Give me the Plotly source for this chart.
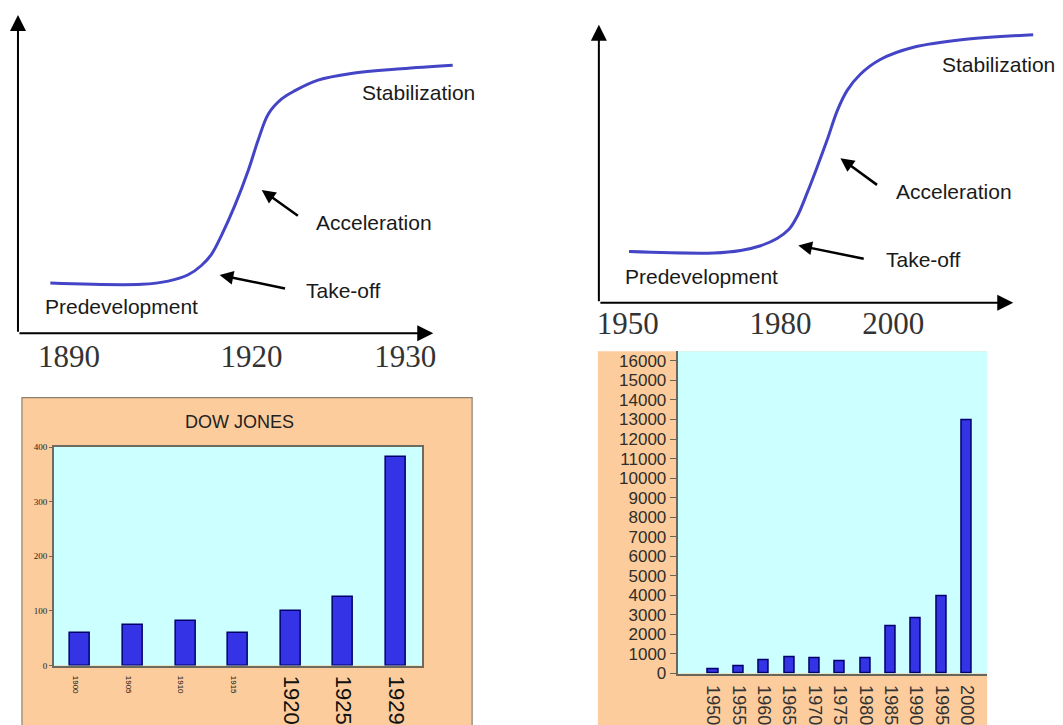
import plotly.graph_objects as go

W, H = 1063, 725
VSCALE = 1.017  # vertical calibration of the photographed page

# ---------------- data ----------------
# Schematic S-curve, 1890-1930 (stage progress units 0-100)
curve1_x = [7.3, 27.9, 33.9, 38.4, 41.4, 43.7, 45.9, 48.9, 52.0, 54.2, 56.5, 59.5, 62.5, 67.7, 75.2, 86.5, 98.1]
curve1_y = [15.8, 15.4, 16.4, 18.4, 21.3, 24.9, 30.7, 40.0, 51.3, 60.7, 68.9, 73.6, 76.2, 79.5, 81.6, 83.1, 84.2]
years1_pos = [11.5, 52.7, 87.4]
years1_lab = ["1890", "1920", "1930"]

# Schematic S-curve, 1950-2000+
curve2_x = [6.8, 26.0, 32.0, 36.5, 40.2, 42.9, 44.8, 47.0, 49.3, 51.5, 53.8, 56.0, 59.0, 63.5, 71.0, 82.3, 98.0]
curve2_y = [18.4, 17.9, 18.8, 20.5, 23.1, 26.4, 31.2, 39.5, 49.0, 58.5, 69.1, 76.3, 82.2, 87.5, 91.9, 94.7, 96.4]
years2_pos = [6.5, 41.0, 66.4]
years2_lab = ["1950", "1980", "2000"]

# Dow Jones bars
dow_years = ["1900", "1905", "1910", "1915", "1920", "1925", "1929"]
dow_values = [60, 74, 82, 60, 100, 126, 381]
dow_small = [True, True, True, True, False, False, False]

# Later index bars
idx_years = ["1950", "1955", "1960", "1965", "1970", "1975", "1980", "1985", "1990", "1995", "2000"]
idx_values = [220, 390, 675, 860, 780, 610, 780, 2415, 2835, 3985, 12965]

# ---------------- helpers ----------------
def px(v):
    return v / W

def py(v):
    return 1 - v * VSCALE / H

ORANGE = "#fdcc9c"
CYAN = "#ccffff"
BAR = "#3434e6"
BAR_LINE = "#00006a"
CURVE = "#4444c6"
LABEL_FONT = dict(family="Liberation Sans, Arial", size=21, color="#1a1a1a")
YEAR_FONT = dict(family="Liberation Serif, Times New Roman", size=31, color="#333333")

fig = go.Figure()

fig.add_trace(go.Scatter(x=curve1_x, y=curve1_y, mode="lines", xaxis="x", yaxis="y",
                         line=dict(color=CURVE, width=3, shape="spline", smoothing=1.0),
                         hoverinfo="skip", showlegend=False))
fig.add_trace(go.Scatter(x=curve2_x, y=curve2_y, mode="lines", xaxis="x2", yaxis="y2",
                         line=dict(color=CURVE, width=3, shape="spline", smoothing=1.0),
                         hoverinfo="skip", showlegend=False))
fig.add_trace(go.Bar(x=dow_years, y=dow_values, xaxis="x3", yaxis="y3", width=0.38,
                     marker=dict(color=BAR, line=dict(color=BAR_LINE, width=1.5)),
                     showlegend=False))
fig.add_trace(go.Bar(x=idx_years, y=idx_values, xaxis="x4", yaxis="y4", width=0.4,
                     marker=dict(color=BAR, line=dict(color=BAR_LINE, width=1.5)),
                     showlegend=False))

dow_ticktext = [
    ("<span style='font-size:8px'>%s</span>" % y) if s else y
    for y, s in zip(dow_years, dow_small)
]

diag_axis = dict(showgrid=False, zeroline=False, showline=False)

fig.update_layout(
    width=W, height=H,
    margin=dict(l=0, r=0, t=0, b=0),
    paper_bgcolor="white",
    plot_bgcolor="rgba(0,0,0,0)",
    bargap=0,
    xaxis=dict(domain=[px(16), px(460)], range=[0, 100], anchor="y",
               tickvals=years1_pos, ticktext=years1_lab, tickfont=YEAR_FONT,
               ticks="", ticklabelstandoff=2, **diag_axis),
    yaxis=dict(domain=[py(332), py(10)], range=[0, 100], anchor="x", visible=False),
    xaxis2=dict(domain=[px(598), px(1042)], range=[0, 100], anchor="y2",
                tickvals=years2_pos, ticktext=years2_lab, tickfont=YEAR_FONT,
                ticks="", ticklabelstandoff=-1, **diag_axis),
    yaxis2=dict(domain=[py(301), py(20)], range=[0, 100], anchor="x2", visible=False),
    xaxis3=dict(domain=[px(52), px(421)], anchor="y3", type="category",
                tickvals=dow_years, ticktext=dow_ticktext, tickangle=90,
                tickfont=dict(family="Liberation Sans, Arial", size=22, color="#111111"),
                showgrid=False, zeroline=False, showline=True, mirror=True,
                linecolor="#6e6a5e", linewidth=1.5, ticks="", ticklabelstandoff=4),
    yaxis3=dict(domain=[py(668), py(447)], anchor="x3", range=[0, 400],
                tickvals=[0, 100, 200, 300, 400],
                tickfont=dict(family="Liberation Serif, Times New Roman", size=9, color="#222222"),
                showgrid=False, zeroline=False, showline=True, mirror=True,
                linecolor="#6e6a5e", linewidth=1.5, ticks="outside", ticklen=3,
                tickcolor="#6e6a5e"),
    xaxis4=dict(domain=[px(677), px(987)], anchor="y4", type="category",
                range=[-1.4, 10.8], tickangle=90,
                tickfont=dict(family="Liberation Sans, Arial", size=18, color="#333333"),
                showgrid=False, zeroline=False, showline=True, linecolor="#66665a",
                linewidth=2, ticks="", ticklabelstandoff=6),
    yaxis4=dict(domain=[py(676), py(350)], anchor="x4", range=[0, 16500],
                tickvals=list(range(0, 16001, 1000)), tickformat="d",
                tickfont=dict(family="Liberation Sans, Arial", size=17, color="#2e2e2a"),
                showgrid=False, zeroline=False, showline=True, linecolor="#66665a",
                linewidth=2, ticks="outside", ticklen=6, tickcolor="#66665a"),
)

# panel backgrounds
fig.add_shape(type="rect", xref="paper", yref="paper", x0=px(20), x1=px(471), y0=py(745), y1=py(397),
              fillcolor=ORANGE, line=dict(color="#8c8070", width=1.2), layer="below")
fig.add_shape(type="rect", xref="paper", yref="paper", x0=px(597), x1=px(987), y0=py(745), y1=py(350),
              fillcolor=ORANGE, line=dict(width=0), layer="below")
fig.add_shape(type="rect", xref="x3 domain", yref="y3 domain", x0=0, x1=1, y0=0, y1=1,
              fillcolor=CYAN, line=dict(width=0), layer="below")
fig.add_shape(type="rect", xref="x4 domain", yref="y4 domain", x0=0, x1=1, y0=0, y1=1,
              fillcolor=CYAN, line=dict(width=0), layer="below")

def arrow(xr, yr, x, y, ax, ay, width=2.5, size=1.1):
    fig.add_annotation(xref=xr, yref=yr, axref=xr, ayref=yr, x=x, y=y, ax=ax, ay=ay,
                       text="", showarrow=True, arrowhead=2, arrowsize=size,
                       arrowwidth=width, arrowcolor="#000000", standoff=0, startstandoff=0)

def label(xr, yr, x, y, t):
    fig.add_annotation(xref=xr, yref=yr, x=x, y=y, text=t, showarrow=False, font=LABEL_FONT,
                       xanchor="center", yanchor="middle")

# top-left diagram
arrow("x", "y", 0, 100, 0, 0, width=2, size=1.6)
arrow("x", "y", 93.7, 0, 0, 0, width=2, size=1.6)
arrow("x", "y", 55.0, 45.0, 63.5, 36.6)
arrow("x", "y", 45.5, 18.3, 60.6, 14.0)
label("x", "y", 90.3, 75.5, "Stabilization")
label("x", "y", 80.4, 34.8, "Acceleration")
label("x", "y", 73.4, 13.5, "Take-off")
label("x", "y", 23.4, 8.3, "Predevelopment")

# top-right diagram
arrow("x2", "y2", 0, 100, 0, 0, width=2, size=1.6)
arrow("x2", "y2", 93.5, 0, 0, 0, width=2, size=1.6)
arrow("x2", "y2", 54.5, 52.0, 63.1, 42.0)
arrow("x2", "y2", 45.0, 20.6, 60.1, 15.7)
label("x2", "y2", 90.1, 85.6, "Stabilization")
label("x2", "y2", 80.2, 39.9, "Acceleration")
label("x2", "y2", 73.2, 15.4, "Take-off")
label("x2", "y2", 23.2, 9.4, "Predevelopment")

# Dow Jones title
fig.add_annotation(xref="paper", yref="paper", x=px(238), y=py(422), text="DOW JONES",
                   showarrow=False, xanchor="center", yanchor="middle",
                   font=dict(family="Liberation Sans, Arial", size=18, color="#222222"))

fig.write_html(
    "out.html",
    config={"displayModeBar": False},
    post_script=(
        "var g=document.getElementById('{plot_id}');"
        "g.style.position='fixed';g.style.left='0px';g.style.top='0px';"
        "document.body.style.margin='0';"
        "document.body.style.overflow='hidden';"
        "document.documentElement.style.overflow='hidden';"
    ),
)
